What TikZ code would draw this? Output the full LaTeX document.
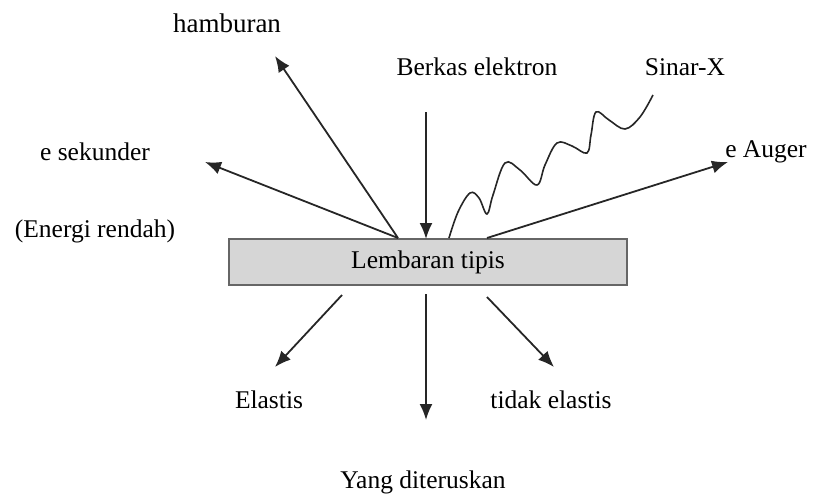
\documentclass[tikz,border=0pt]{standalone}
\usepackage{fontspec}
\setmainfont{Liberation Serif}
\usetikzlibrary{arrows.meta}
\begin{document}
\begin{tikzpicture}[x=1pt,y=-1pt,
  lbl/.style={font=\fontsize{25.5}{30}\selectfont, inner sep=0pt, text=black},
  arr/.style={line width=1.8pt, black!85, -{Latex[length=16pt,width=13pt]}},
  wave/.style={line width=1.6pt, black!85}]
\useasboundingbox (0,0) rectangle (815,501);
% plate
\node[draw=black!60, line width=1.4pt, fill=black!16, minimum width=398pt, minimum height=46pt, inner sep=0pt, lbl] (plate) at (428,262) {Lembaran tipis};
% labels
\node[lbl, font=\fontsize{27}{30}\selectfont] (hamb) at (227,23) {hamburan};
\node[lbl] (berkas) at (477,67) {Berkas elektron};
\node[lbl] (sinar) at (685,67) {Sinar-X};
\node[lbl] (sek) at (95,152) {e sekunder};
\node[lbl] (energi) at (95,231) {(Energi rendah)};
\node[lbl] (auger) at (766,152) {e Auger};
\node[lbl] (elastis) at (269,400) {Elastis};
\node[lbl] (tidak) at (551,400) {tidak elastis};
\node[lbl] (yang) at (423,482) {Yang diteruskan};
% coordinates
\coordinate (o1) at (398,238);
\coordinate (hambT) at (275,56);
\coordinate (sekT) at (205,162);
\coordinate (beamS) at (426,112);
\coordinate (beamT) at (426,239);
\coordinate (augS) at (487,238);
\coordinate (augT) at (728,162);
\coordinate (elS) at (342,295);
\coordinate (elT) at (275,367);
\coordinate (trS) at (426,294);
\coordinate (trT) at (426,420);
\coordinate (tiS) at (487,297);
\coordinate (tiT) at (554,367);
% arrows
\draw[arr] (o1) -- (hambT);
\draw[arr] (o1) -- (sekT);
\draw[arr] (beamS) -- (beamT);
\draw[arr] (augS) -- (augT);
\draw[arr] (elS) -- (elT);
\draw[arr] (trS) -- (trT);
\draw[arr] (tiS) -- (tiT);
% X-ray wave
\draw[wave] plot[smooth, tension=0.6] coordinates {(449,238) (458,212) (470,193) (479,198) (487,214) (493,195) (505,163) (520,170) (537,185) (545,165) (557,143) (572,146) (587,153) (591,135) (596,112) (609,120) (625,129) (640,117) (653,95)};
\end{tikzpicture}
\end{document}
